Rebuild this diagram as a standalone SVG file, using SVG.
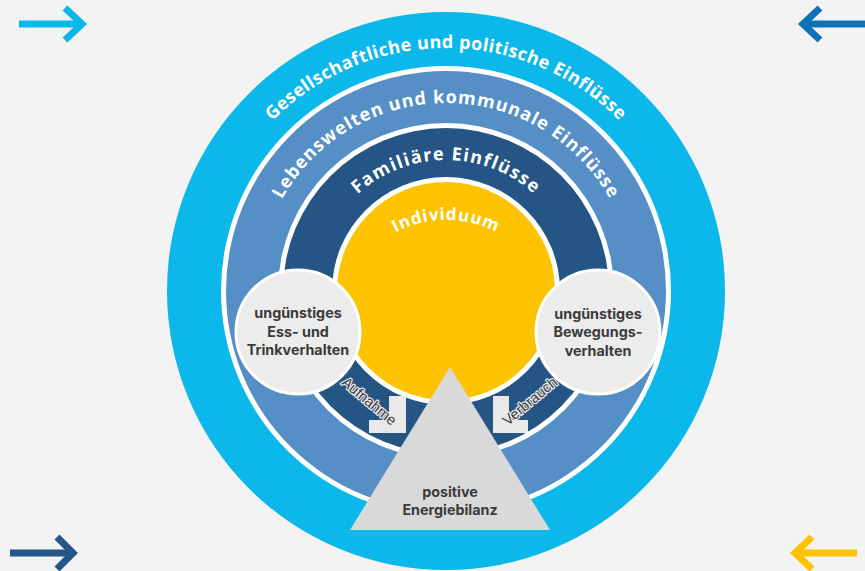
<svg xmlns="http://www.w3.org/2000/svg" width="865" height="571" viewBox="0 0 865 571">
<style>
.ring{font-family:"Open Sans","DejaVu Sans",sans-serif;font-weight:700;fill:#ffffff;}
.lbl{font-family:Inter,"Liberation Sans",sans-serif;font-weight:700;font-size:14.3px;fill:#3a3a3a;text-anchor:middle;}
.flow{font-family:"Liberation Sans",Arial,sans-serif;font-size:14.5px;fill:#3a3a3a;stroke:#e9e9e9;stroke-width:2.5px;paint-order:stroke;stroke-linejoin:round;text-anchor:middle;}
.arr{fill:none;stroke-width:7;stroke-linecap:butt;stroke-linejoin:miter;}
</style>
<defs>
<path id="arc1" d="M203,291 A243,243 0 0 1 689,291"/>
<path id="arc2" d="M258,291 A188,188 0 0 1 634,291"/>
<path id="arc3" d="M315,291 A131,131 0 0 1 577,291"/>
<path id="arc4" d="M336,330 A110,110 0 0 1 556,330"/>
</defs>
<rect width="865" height="571" fill="#f3f3f3"/>
<g id="corner-arrows">
<g id="arrow-tl" stroke="#0bb8e9" class="arr"><line x1="19" y1="24" x2="82" y2="24"/><polyline points="65,8 82,24 65,40"/></g>
<g id="arrow-tr" stroke="#0e73b5" class="arr"><line x1="804" y1="24" x2="865" y2="24"/><polyline points="820,8 803,24 820,40"/></g>
<g id="arrow-bl" stroke="#25568a" class="arr"><line x1="10" y1="553" x2="73" y2="553"/><polyline points="57,537 73,553 57,569"/></g>
<g id="arrow-br" stroke="#fdc300" class="arr"><line x1="794" y1="553" x2="857" y2="553"/><polyline points="812,537 795,553 812,569"/></g>
</g>
<g id="ring-society">
<circle cx="446" cy="291" r="279" fill="#0bb8e9"/>
<text class="ring" font-size="18" letter-spacing="0.4"><textPath href="#arc1" startOffset="50%" text-anchor="middle">Gesellschaftliche und politische Einflüsse</textPath></text>
</g>
<g id="ring-community">
<circle cx="446" cy="291" r="225" fill="#ffffff"/>
<circle cx="446" cy="291" r="220" fill="#558fc6"/>
<text class="ring" font-size="18" letter-spacing="1"><textPath href="#arc2" startOffset="50%" text-anchor="middle">Lebenswelten und kommunale Einflüsse</textPath></text>
</g>
<g id="ring-family">
<circle cx="446" cy="291" r="168" fill="#ffffff"/>
<circle cx="446" cy="291" r="163" fill="#255585"/>
<text class="ring" font-size="18" letter-spacing="1.3"><textPath href="#arc3" startOffset="50%" text-anchor="middle">Familiäre Einflüsse</textPath></text>
</g>
<g id="individual">
<circle cx="446" cy="291" r="114" fill="#ffffff"/>
<circle cx="446" cy="291" r="109" fill="#fdc300"/>
<text class="ring" font-size="17" letter-spacing="0.8"><textPath href="#arc4" startOffset="50%" text-anchor="middle">Individuum</textPath></text>
</g>
<g id="eating">
<circle cx="298" cy="332" r="62" fill="#ececec" stroke="#ffffff" stroke-width="3"/>
<text class="lbl" x="298" y="318">ungünstiges</text>
<text class="lbl" x="298" y="337">Ess- und</text>
<text class="lbl" x="298" y="355">Trinkverhalten</text>
</g>
<g id="movement">
<circle cx="598" cy="332" r="62" fill="#ececec" stroke="#ffffff" stroke-width="3"/>
<text class="lbl" x="598" y="319">ungünstiges</text>
<text class="lbl" x="598" y="337">Bewegungs-</text>
<text class="lbl" x="598" y="356">verhalten</text>
</g>
<g id="connectors">
<g id="intake">
<polygon points="389,396 406,396 406,433 369,433 369,420 389,420" fill="#e9e9e9"/>
<text class="flow" transform="translate(366,405) rotate(40)">Aufnahme</text>
</g>
<g id="consumption">
<polygon points="493,396 509,396 509,420 528,420 528,433 493,433" fill="#e9e9e9"/>
<text class="flow" transform="translate(533,405) rotate(-40)">Verbrauch</text>
</g>
</g>
<g id="balance">
<polygon points="450,367 550,530 350,530" fill="#d9d9d9"/>
<text class="lbl" x="450" y="497">positive</text>
<text class="lbl" x="450" y="515">Energiebilanz</text>
</g>
</svg>
